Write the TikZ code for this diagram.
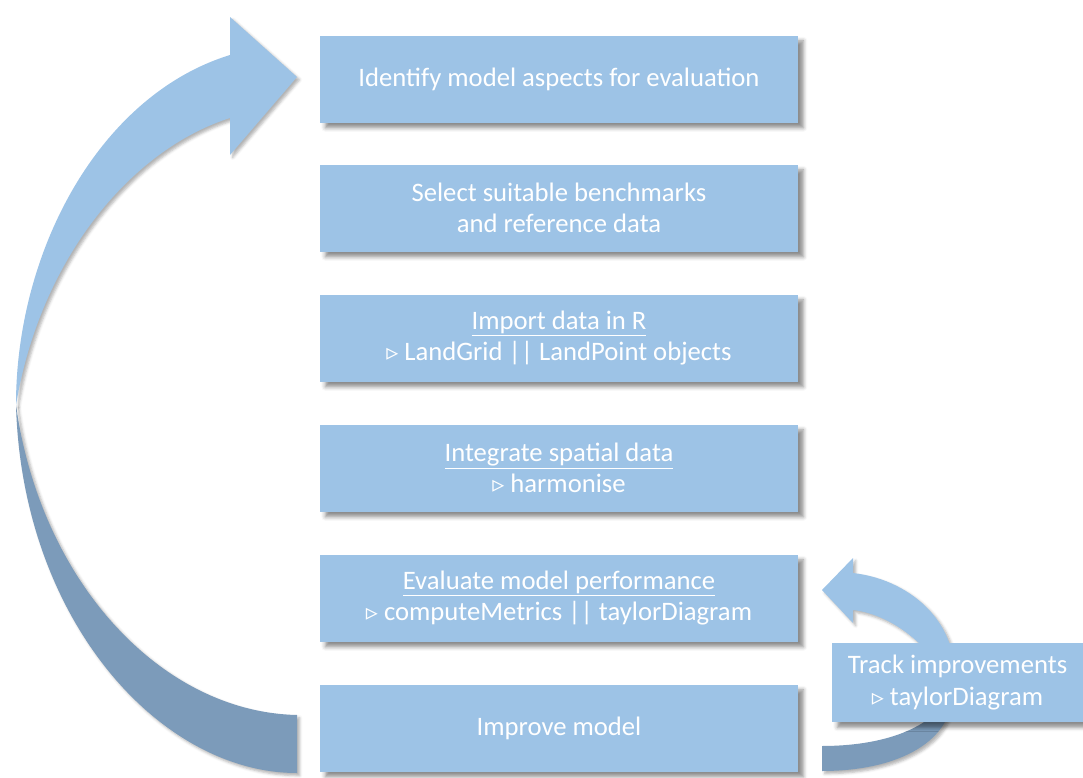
\documentclass[tikz,border=0pt]{standalone}
\usepackage{fontspec}
\setmainfont{Carlito}
\newfontfamily\symfont{DejaVu Sans}
\usetikzlibrary{shadows.blur}
\definecolor{boxblue}{HTML}{9DC3E6}
\definecolor{backblue}{HTML}{7C9BBA}
\newcommand{\tri}{{\symfont\fontsize{18}{18}\selectfont ▹}}
\tikzset{
  stepbox/.style={fill=boxblue, draw=none, minimum width=358.5pt, minimum height=65.25pt,
    text=white, align=center, font=\fontsize{20}{23.5}\selectfont, inner sep=0pt,
    blur shadow={shadow xshift=4pt, shadow yshift=-4pt, shadow blur radius=3pt, shadow opacity=45}},
  sidebox/.style={stepbox, minimum width=188.25pt, minimum height=59.25pt},
  frontface/.style={fill=boxblue},
  backface/.style={fill=backblue},
  arrowshadow/.style={blur shadow={shadow xshift=2pt, shadow yshift=-2pt, shadow blur radius=2pt, shadow opacity=30}}
}
\begin{document}
\begin{tikzpicture}[x=0.75pt,y=-0.75pt]
\useasboundingbox (0,0) rectangle (1083,778);

% large loop arrow: back face (lower) and front face with head (upper)
\fill[backface, arrowshadow] (16,405) .. controls (22,620) and (160,773) .. (297,773)
  -- (297,715) .. controls (160,712) and (40,580) .. (16,405) -- cycle;
\fill[frontface, arrowshadow] (16,405) .. controls (16,250) and (100,95) .. (230,55)
  -- (230,17) -- (297,77) -- (230,155) -- (230,118)
  .. controls (130,150) and (40,260) .. (16,405) -- cycle;

% small feedback arrow
\fill[backface, arrowshadow] (952,690) .. controls (955,740) and (900,771) .. (822,771)
  -- (822,746) .. controls (880,746) and (935,730) .. (952,690) -- cycle;
\fill[frontface, arrowshadow] (952,690) .. controls (965,630) and (915,580) .. (853,573)
  -- (853,558) -- (822,590) -- (853,623) -- (853,610)
  .. controls (895,615) and (935,650) .. (952,690) -- cycle;

% workflow steps
\node[stepbox] (identify) at (559,79) {Identify model aspects for evaluation};
\node[stepbox] (select) at (559,208) {Select suitable benchmarks\\and reference data};
\node[stepbox] (import) at (559,338) {\underline{Import data in R}\\\tri\ LandGrid || LandPoint objects};
\node[stepbox] (integrate) at (559,468) {\underline{Integrate spatial data}\\\tri\ harmonise};
\node[stepbox] (evaluate) at (559,598) {\underline{Evaluate model performance}\\\tri\ computeMetrics || taylorDiagram};
\node[stepbox] (improve) at (559,728) {Improve model};
\node[sidebox] (track) at (957.5,682.5) {Track improvements\\\tri\ taylorDiagram};
\end{tikzpicture}
\end{document}
